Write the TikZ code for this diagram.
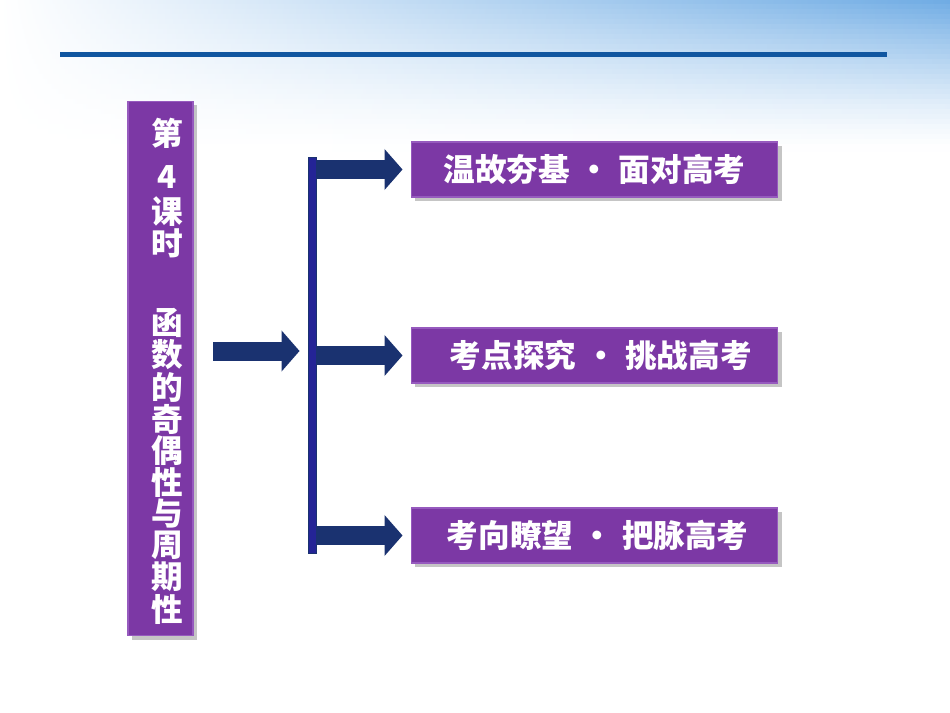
\documentclass[tikz,border=0pt]{standalone}
\usepackage{fontspec}
\usetikzlibrary{arrows.meta, shadows}
\newfontfamily\cjk{Noto Sans CJK SC}
\definecolor{boxpurple}{RGB}{124,56,165}
\definecolor{boxtop}{RGB}{150,90,190}
\definecolor{arrowblue}{RGB}{26,50,112}
\definecolor{barblue}{RGB}{36,36,150}
\definecolor{lineblue}{RGB}{16,86,160}
\definecolor{skyblue}{RGB}{112,172,228}
\tikzset{
  topicbox/.style={draw=boxtop, line width=0.6pt, fill=boxpurple, drop shadow={opacity=0.45},
    minimum width=7.34cm, minimum height=1.1cm, inner sep=0pt,
    text=white, font=\cjk\bfseries\fontsize{18}{20}\selectfont},
  titlechar/.style={text=white, inner sep=0pt, font=\cjk\bfseries\fontsize{18}{20}\selectfont},
  blockarrow/.style={draw=arrowblue, line width=0.38cm,
    -{Triangle[length=0.36cm, width=0.8cm]}}
}
\newcommand{\dotgap}{\hspace{0.27em}·\hspace{0.27em}}

\begin{document}
\begin{tikzpicture}[x=0.02cm, y=-0.02cm]
    \useasboundingbox (0,0) rectangle (950,713);
    \fill[white] (0,0) rectangle (950,713);
    % sky at the top, in thin strips
    \foreach \yy in {0,5,...,145} {
        \pgfmathtruncatemacro{\rr}{100*(1-\yy/150)^1.3}
        \pgfmathtruncatemacro{\mm}{45*(1-\yy/150)^1.6}
        \fill[left color=white, middle color=skyblue!\mm!white, right color=skyblue!\rr!white]
            (0,\yy) rectangle (950,\yy+6);
    }
    \draw[lineblue, line width=0.1cm] (60,55) -- (887,55);

    % lesson title
    \node[fill=boxpurple, draw=boxtop, line width=0.6pt, drop shadow={opacity=0.45},
      minimum width=1.3cm, minimum height=10.7cm] (title) at (160.5,368.5) {};
    \foreach \ch/\yy [count=\i] in {第/133, 4/177, 课/212, 时/243, 函/323, 数/355, 的/387,
        奇/419, 偶/451, 性/482, 与/514, 周/545, 期/577, 性/609}
        \node[titlechar] (t\i) at (167,\yy) {\ch};

    % branches
    \node[topicbox] (wen) at (594.5,169.5) {温故夯基\dotgap 面对高考};
    \node[topicbox] (kao) at (594.5,355.5) {\hspace{0.4em}考点探究\dotgap 挑战高考};
    \node[topicbox] (xiang) at (594.5,535.5) {\hspace{0.2em}考向瞭望\dotgap 把脉高考};

    \node[fill=barblue, draw=arrowblue, line width=0.5pt, minimum width=0.16cm,
      minimum height=7.92cm, inner sep=0pt] (bar) at (312,355) {};

    \coordinate (lstart) at (213,351);
    \draw[blockarrow, shorten >=0.16cm] (lstart) -- (bar.west |- lstart);
    \draw[blockarrow, shorten >=0.16cm] (bar.east |- wen.west) -- (wen.west);
    \draw[blockarrow, shorten >=0.16cm] (bar.east |- kao.west) -- (kao.west);
    \draw[blockarrow, shorten >=0.16cm] (bar.east |- xiang.west) -- (xiang.west);
\end{tikzpicture}
\end{document}
